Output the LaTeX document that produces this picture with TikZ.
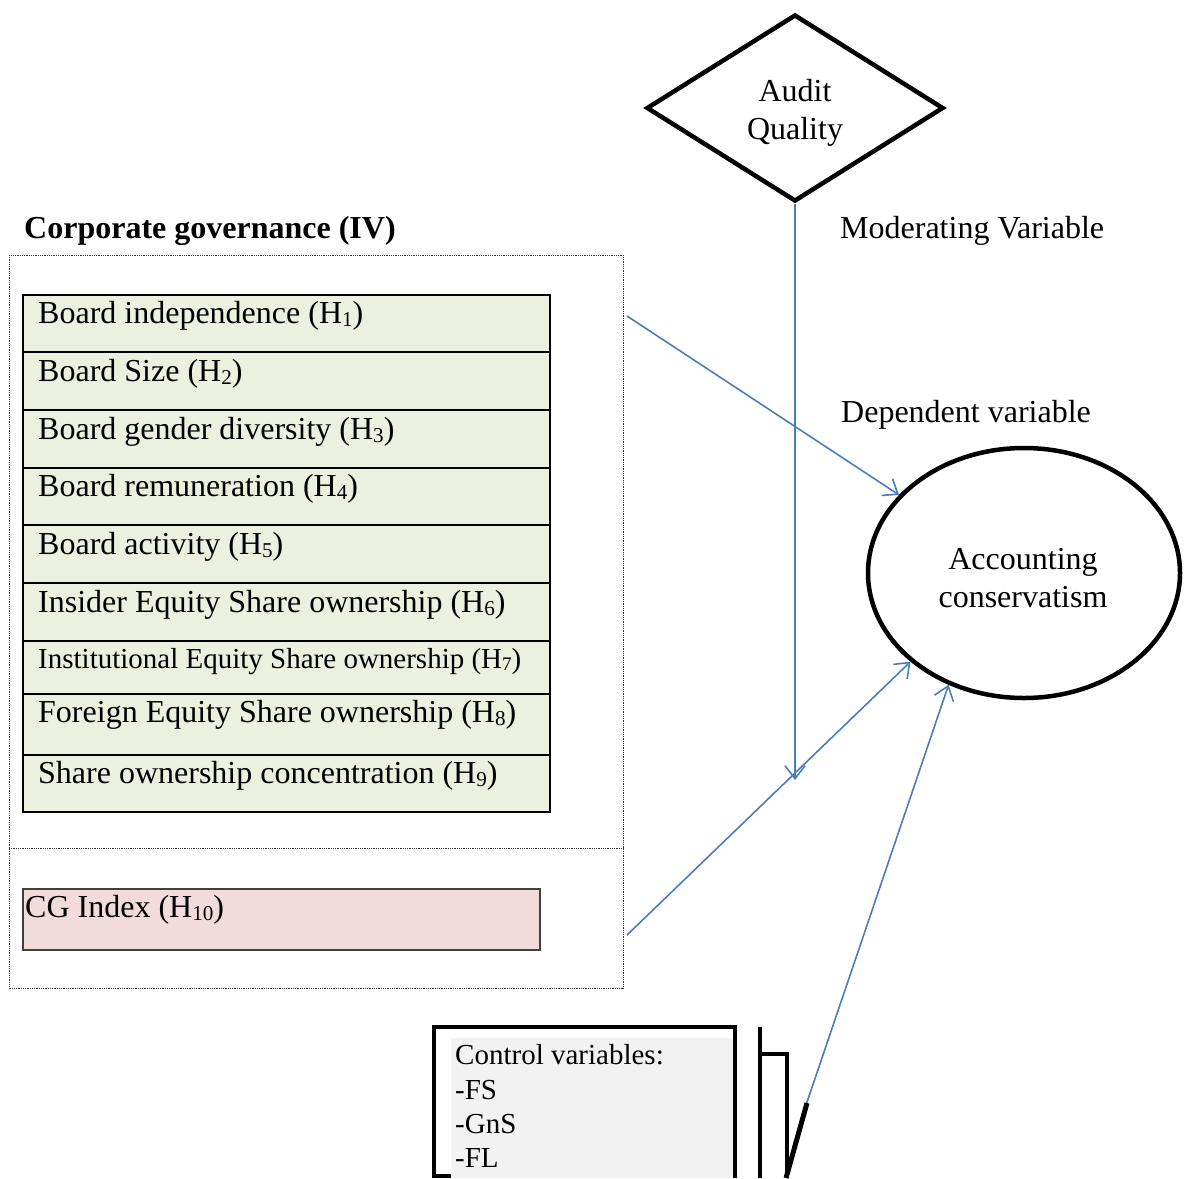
\documentclass[tikz,border=0pt]{standalone}
\usepackage{fontspec}
\setmainfont{Liberation Serif}
\usetikzlibrary{shapes.geometric,arrows.meta}
\definecolor{rowgreen}{HTML}{EBF1DE}
\definecolor{cgpink}{HTML}{F2DCDB}
\definecolor{ctrlgray}{HTML}{F2F2F2}
\definecolor{arrowblue}{HTML}{4A7EBB}
\newcommand\bigtxt{\fontsize{32}{37}\selectfont}
\newcommand\midtxt{\fontsize{29}{34.5}\selectfont}
\newcommand\hsub[1]{\raisebox{-0.1em}{\fontsize{0.66em}{0.66em}\selectfont #1}}
\begin{document}
\begin{tikzpicture}[x=1pt,y=-1pt,
  lbl/.style={inner sep=0pt, font=\bigtxt, anchor=base west},
  smalllbl/.style={inner sep=0pt, font=\midtxt, anchor=base west},
  ctext/.style={inner sep=0pt, font=\fontsize{32}{37.5}\selectfont, align=center},
  rowbox/.style={draw=black, line width=2.5pt, fill=rowgreen},
  dotbox/.style={draw=black!80, line width=0.8pt, dash pattern=on 0.9pt off 0.9pt},
  conn/.style={draw=arrowblue, line width=1.6pt, -{Straight Barb[length=13pt,width=20pt,line width=1.6pt]}},
  heavy/.style={line width=4.5pt, draw=black}]
\useasboundingbox (0,0) rectangle (1185,1178);

% title texts
\node[lbl, font=\bigtxt\bfseries] (cgt) at (24,238) {Corporate governance (IV)};
\node[lbl] (modt) at (840,238) {Moderating Variable};
\node[lbl] (dept) at (841,422) {Dependent variable};

% outer dotted container
\path[dotbox] (9,255) rectangle (623,988);
\path[dotbox] (9,848) -- (623,848);

% green rows
\foreach \i/\ya/\yb/\yt/\txt in {
  1/295/352/323/{Board independence (H\hsub{1})},
  2/352/410/381/{Board Size (H\hsub{2})},
  3/410/468/439/{Board gender diversity (H\hsub{3})},
  4/468/525/496/{Board remuneration (H\hsub{4})},
  5/525/583/554/{Board activity (H\hsub{5})},
  6/583/641/612/{Insider Equity Share ownership (H\hsub{6})},
  7/641/694/668/{\midtxt Institutional Equity Share ownership (H\hsub{7})},
  8/694/755/722/{Foreign Equity Share ownership (H\hsub{8})},
  9/755/812/783/{Share ownership concentration (H\hsub{9})}} {
  \path[rowbox] (23,\ya) rectangle (550,\yb);
  \node[lbl] (t\i) at (38,\yt) {\txt};
}

% CG index
\path[draw=black!75, line width=1.2pt, fill=cgpink] (23,889) rectangle (540,950);
\node[lbl] (cgi) at (25,917) {CG Index (H\hsub{10})};

% audit quality diamond
\node[diamond, draw=black, line width=4.5pt, minimum width=297, minimum height=187,
      inner sep=0pt] (aq) at (795,108) {};
\node[ctext] (aqt) at (795,113) {Audit\\Quality};

% accounting conservatism ellipse
\node[ellipse, draw=black, line width=4.5pt, minimum width=312, minimum height=250,
      inner sep=0pt] (ac) at (1024,573) {};
\node[ctext] (act) at (1023,578) {Accounting\\conservatism};

% control variables box
\path[heavy] (434,1027) rectangle (735,1176);
\path[fill=ctrlgray] (451,1038) rectangle (733,1178);
\node[smalllbl] (cv1) at (455,1064) {Control variables:};
\node[smalllbl] (cv2) at (455,1099) {-FS};
\node[smalllbl] (cv3) at (455,1133) {-GnS};
\node[smalllbl] (cv4) at (455,1167) {-FL};

% black strokes right of control box
\draw[heavy] (760,1027) -- (760,1178);
\draw[heavy] (760,1054) -- (787,1054) -- (787,1178);

% connectors
\coordinate (s1) at (627,316);
\coordinate (s3) at (627,935);
\coordinate (mv) at (795,780);
\coordinate (s4) at (805,1108);
\draw[conn] (s1) -- (ac.148.6);
\draw[conn] (aq.south) -- (mv);
\draw[conn] (s3) -- (ac.218.1);
\draw[conn] (s4) -- (ac.236.2);
\draw[line width=5pt, black] (786,1178) -- (807,1103);
\end{tikzpicture}
\end{document}
